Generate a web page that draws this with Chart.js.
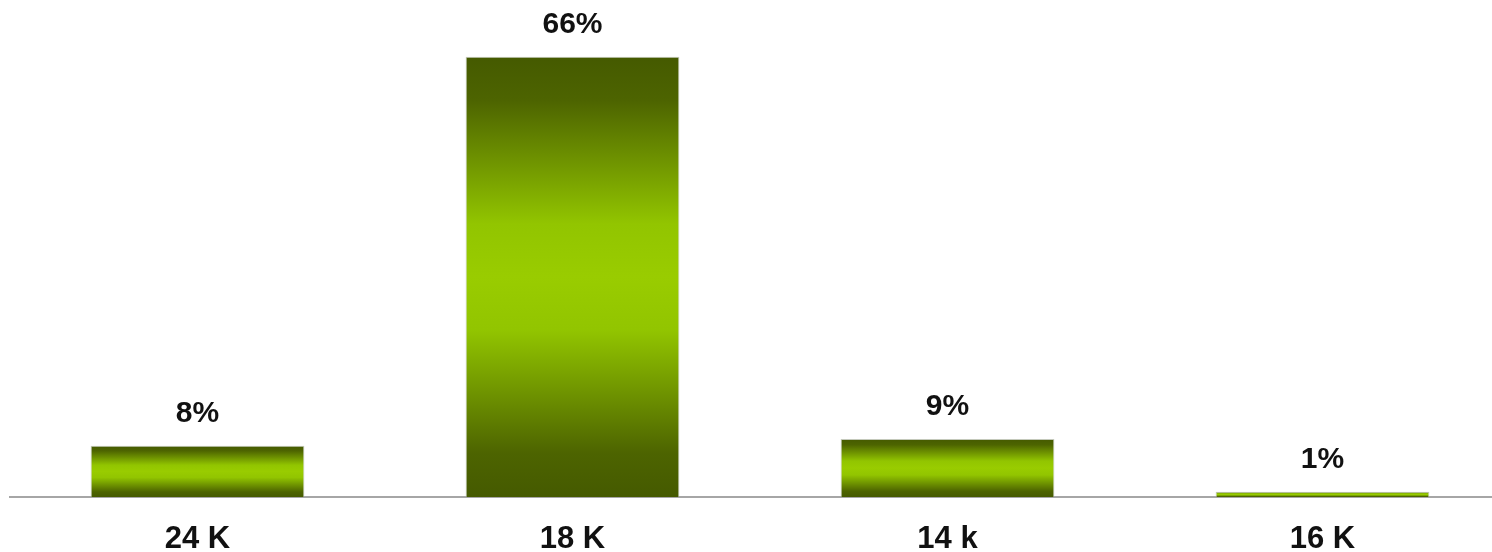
<!DOCTYPE html>
<html>
<head>
	<title>Share by category</title>
	<script src="https://cdn.jsdelivr.net/npm/chart.js"></script>
	<style>
		html, body { margin: 0; padding: 0; background: #fff; overflow: hidden; }
		#wrap { width: 1510px; height: 552px; }
	</style>
</head>
<body>
	<div id="wrap"><canvas id="barChart"></canvas></div>
	<script>
		// values (percent)
		var categories = ['24 K', '18 K', '14 k', '16 K'];
		var shares = [7.7, 66, 8.7, 0.8];

		function barGradient(context) {
			var chart = context.chart;
			var area = chart.chartArea;
			if (!area) return '#99cc00';
			var y = chart.scales.y;
			var top = y.getPixelForValue(context.raw);
			var base = y.getPixelForValue(0);
			if (base - top < 1) top = base - 1;
			var g = chart.ctx.createLinearGradient(0, top, 0, base);
			g.addColorStop(0, '#455a00');
			g.addColorStop(0.1, '#4d6400');
			g.addColorStop(0.38, '#92c500');
			g.addColorStop(0.5, '#99cc00');
			g.addColorStop(0.62, '#92c500');
			g.addColorStop(0.9, '#4d6400');
			g.addColorStop(1, '#455a00');
			return g;
		}

		var valueLabels = {
			id: 'valueLabels',
			afterDatasetsDraw: function(chart) {
				var ctx = chart.ctx;
				var meta = chart.getDatasetMeta(0);
				ctx.save();
				ctx.font = 'bold 30px "Liberation Sans", Arial, sans-serif';
				ctx.fillStyle = '#111';
				ctx.textAlign = 'center';
				ctx.textBaseline = 'alphabetic';
				meta.data.forEach(function(bar, i) {
					ctx.fillText(Math.round(shares[i]) + '%', bar.x, bar.y - 24);
				});
				ctx.restore();
			}
		};

		var ctx = document.getElementById('barChart').getContext('2d');
		var chart = new Chart(ctx, {
			type: 'bar',
			data: {
				labels: categories,
				datasets: [{
					data: shares,
					backgroundColor: barGradient,
					borderColor: 'rgba(190,195,180,0.9)',
					borderWidth: { top: 1, left: 1, right: 1, bottom: 0 },
					barPercentage: 0.57,
					categoryPercentage: 1
				}]
			},
			options: {
				responsive: true,
				maintainAspectRatio: false,
				animation: false,
				layout: { padding: { left: 10, right: 0, top: 0, bottom: 0 } },
				plugins: {
					legend: { display: false },
					tooltip: { enabled: false }
				},
				scales: {
					x: {
						grid: { display: false, drawTicks: false },
						border: { display: true, color: '#a6a6a6', width: 2 },
						ticks: {
							color: '#111',
							padding: 24,
							font: { family: '"Liberation Sans", Arial, sans-serif', size: 31, weight: 'bold' }
						},
						afterFit: function(scale) { scale.height = 55; }
					},
					y: {
						display: false,
						min: 0,
						max: 74.5
					}
				}
			},
			plugins: [valueLabels]
		});
	</script>
</body>
</html>
